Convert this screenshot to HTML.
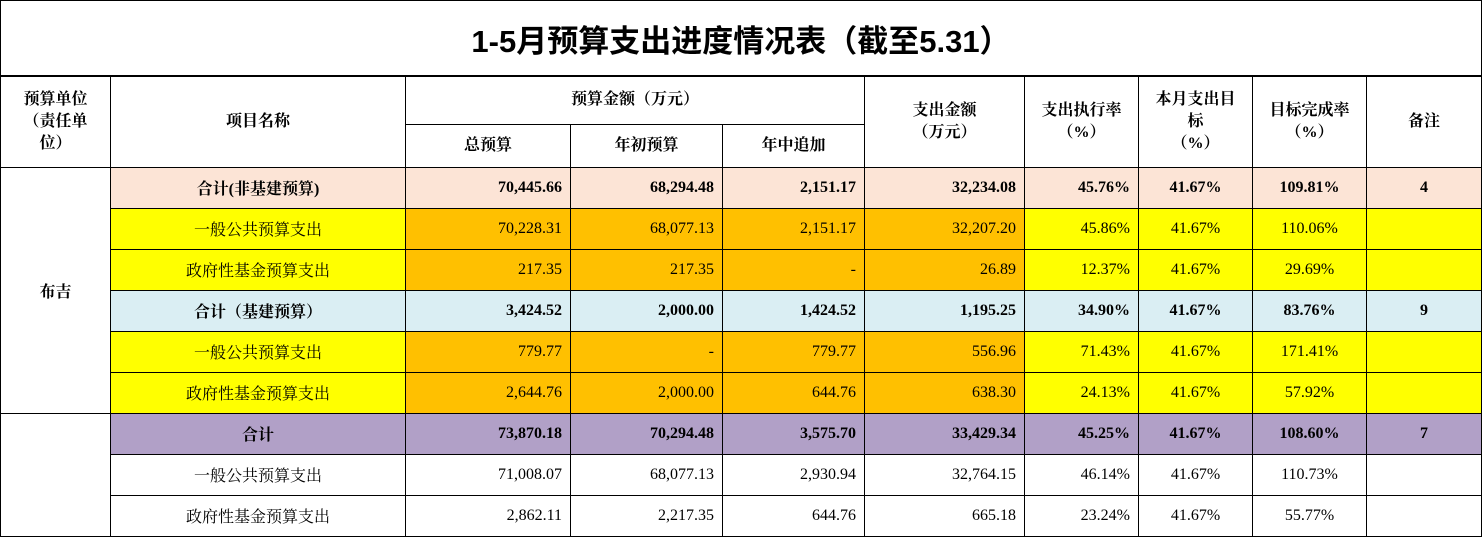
<!DOCTYPE html>
<html><head><meta charset="utf-8"><style>
body{margin:0;width:1483px;height:539px;background:#fff;overflow:hidden}
table{border-collapse:collapse;table-layout:fixed;position:absolute;left:0;top:0;font-family:"Liberation Serif","Noto Serif CJK SC",serif;font-size:16px;color:#000}
td{border:1px solid #000;padding:0 8px;white-space:nowrap;overflow:hidden}
.t{height:74px;text-align:center;font-family:"Liberation Sans","Noto Sans CJK SC",sans-serif;font-size:31px;font-weight:bold;border-bottom:2px solid #000}
.h{text-align:center;font-weight:bold;font-family:"Liberation Serif","Noto Serif CJK SC",serif;line-height:22px}
.b{font-weight:bold}
.r{text-align:right}.c{text-align:center}
.pe td{background:#FCE4D6}.bl td{background:#DAEEF3}.pu td{background:#B1A0C7}
.ye td{background:#FFFF00}.ye td.o{background:#FFC000}
tr.d td{height:40px}
</style></head><body>
<table>
<colgroup><col style="width:110px"><col style="width:295px"><col style="width:165px"><col style="width:152px"><col style="width:142px"><col style="width:160px"><col style="width:114px"><col style="width:114px"><col style="width:114px"><col style="width:115px"></colgroup>
<tr><td class="t" colspan="10">1-5月预算支出进度情况表（截至5.31）</td></tr>
<tr style="height:48px">
<td class="h" rowspan="2">预算单位<br>（责任单<br>位）</td>
<td class="h" rowspan="2">项目名称</td>
<td class="h" colspan="3">预算金额（万元）</td>
<td class="h" rowspan="2">支出金额<br>（万元）</td>
<td class="h" rowspan="2">支出执行率<br>（%）</td>
<td class="h" rowspan="2">本月支出目<br>标<br>（%）</td>
<td class="h" rowspan="2">目标完成率<br>（%）</td>
<td class="h" rowspan="2">备注</td></tr>
<tr style="height:43px">
<td class="h">总预算</td>
<td class="h">年初预算</td>
<td class="h">年中追加</td></tr>
<tr class="d pe b"><td class="c" rowspan="6" style="background:#fff">布吉</td><td class="c">合计(非基建预算)</td><td class="r">70,445.66</td><td class="r">68,294.48</td><td class="r">2,151.17</td><td class="r">32,234.08</td><td class="r">45.76%</td><td class="c">41.67%</td><td class="c">109.81%</td><td class="c">4</td></tr>
<tr class="d ye"><td class="c">一般公共预算支出</td><td class="r o">70,228.31</td><td class="r o">68,077.13</td><td class="r o">2,151.17</td><td class="r o">32,207.20</td><td class="r">45.86%</td><td class="c">41.67%</td><td class="c">110.06%</td><td></td></tr>
<tr class="d ye"><td class="c">政府性基金预算支出</td><td class="r o">217.35</td><td class="r o">217.35</td><td class="r o">-</td><td class="r o">26.89</td><td class="r">12.37%</td><td class="c">41.67%</td><td class="c">29.69%</td><td></td></tr>
<tr class="d bl b"><td class="c">合计（基建预算）</td><td class="r">3,424.52</td><td class="r">2,000.00</td><td class="r">1,424.52</td><td class="r">1,195.25</td><td class="r">34.90%</td><td class="c">41.67%</td><td class="c">83.76%</td><td class="c">9</td></tr>
<tr class="d ye"><td class="c">一般公共预算支出</td><td class="r o">779.77</td><td class="r o">-</td><td class="r o">779.77</td><td class="r o">556.96</td><td class="r">71.43%</td><td class="c">41.67%</td><td class="c">171.41%</td><td></td></tr>
<tr class="d ye"><td class="c">政府性基金预算支出</td><td class="r o">2,644.76</td><td class="r o">2,000.00</td><td class="r o">644.76</td><td class="r o">638.30</td><td class="r">24.13%</td><td class="c">41.67%</td><td class="c">57.92%</td><td></td></tr>
<tr class="d pu b"><td style="border-bottom:none;background:#fff"></td><td class="c">合计</td><td class="r">73,870.18</td><td class="r">70,294.48</td><td class="r">3,575.70</td><td class="r">33,429.34</td><td class="r">45.25%</td><td class="c">41.67%</td><td class="c">108.60%</td><td class="c">7</td></tr>
<tr class="d"><td style="border-top:none;border-bottom:none"></td><td class="c">一般公共预算支出</td><td class="r">71,008.07</td><td class="r">68,077.13</td><td class="r">2,930.94</td><td class="r">32,764.15</td><td class="r">46.14%</td><td class="c">41.67%</td><td class="c">110.73%</td><td></td></tr>
<tr class="d"><td style="border-top:none"></td><td class="c">政府性基金预算支出</td><td class="r">2,862.11</td><td class="r">2,217.35</td><td class="r">644.76</td><td class="r">665.18</td><td class="r">23.24%</td><td class="c">41.67%</td><td class="c">55.77%</td><td></td></tr>
</table>
</body></html>
